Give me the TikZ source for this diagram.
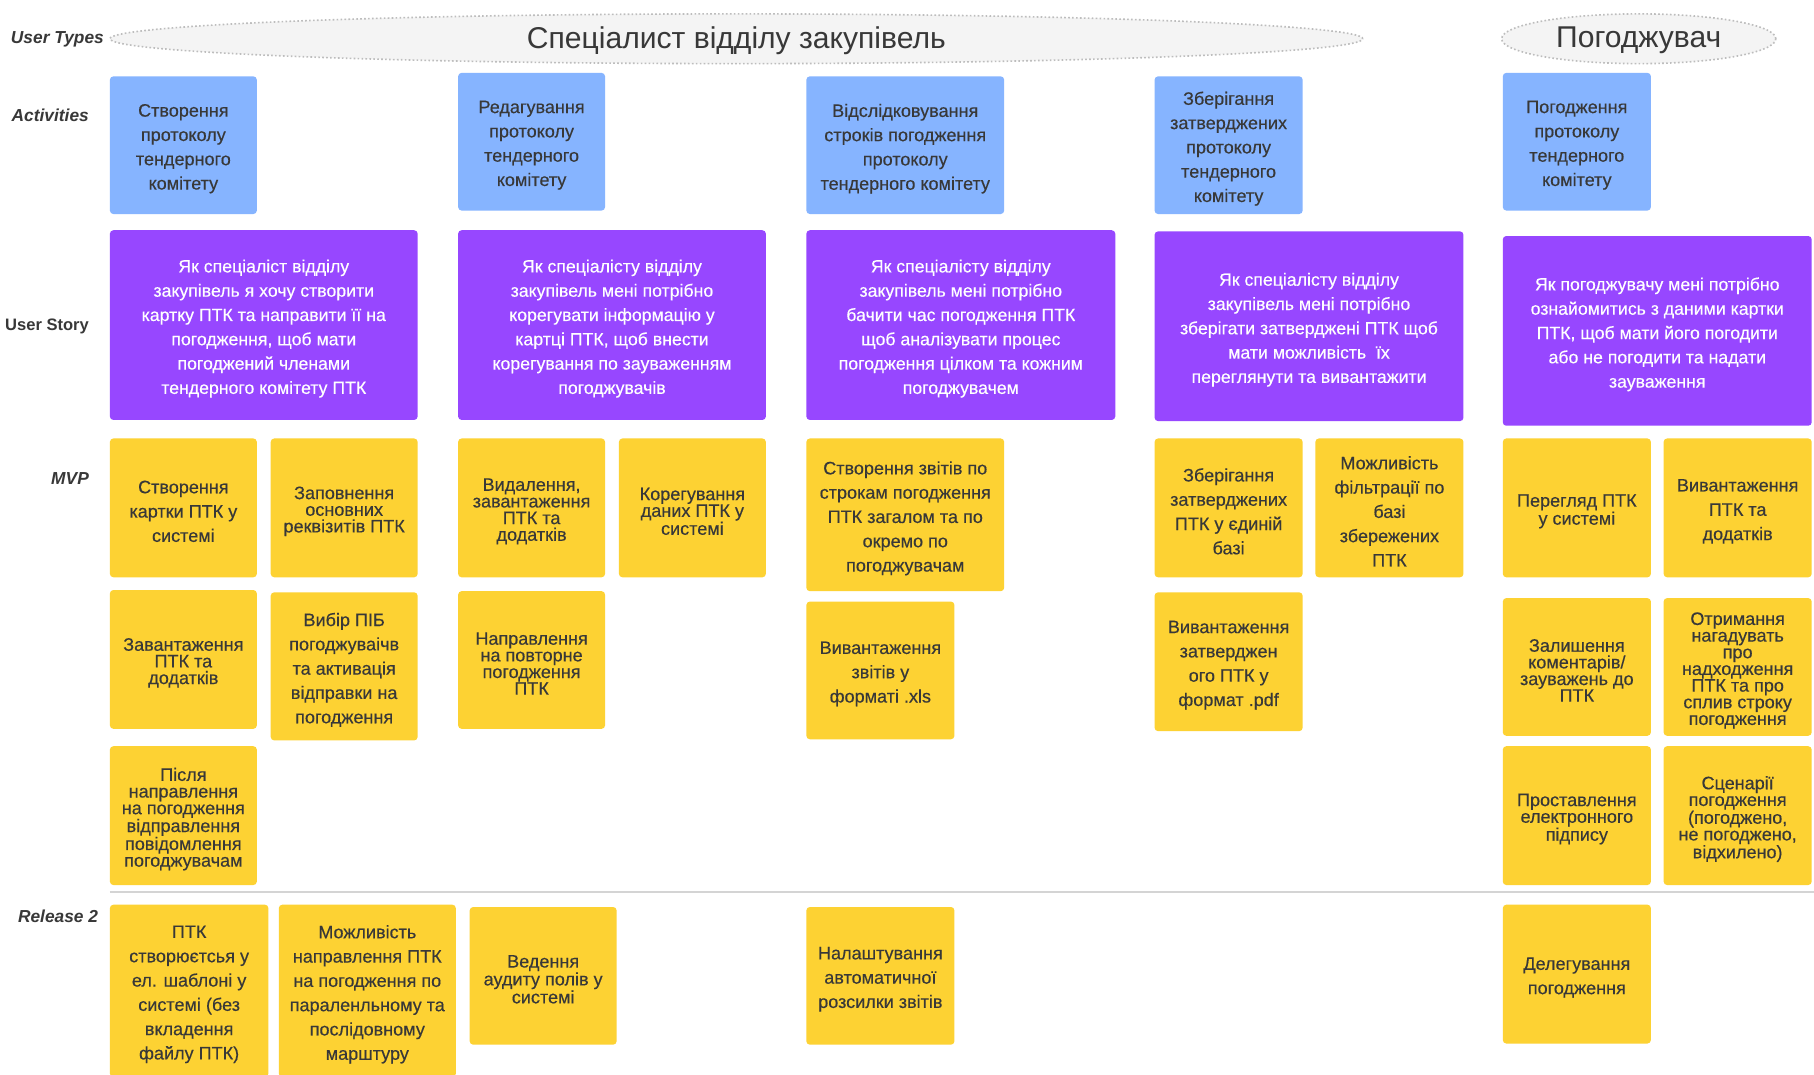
\documentclass[tikz,border=0pt]{standalone}
\usepackage{fontspec}
\setmainfont{Liberation Sans}
\newfontfamily\cardfont{Liberation Sans}[FakeBold=0.35]
\usetikzlibrary{shapes.geometric}
\definecolor{actblue}{HTML}{86B4FF}
\definecolor{storyviolet}{HTML}{9747FF}
\definecolor{stickyyellow}{HTML}{FDD233}
\definecolor{inkgray}{HTML}{383838}
\definecolor{personafill}{HTML}{F4F4F4}
\definecolor{personaline}{HTML}{BDBDBD}
\definecolor{ruleline}{HTML}{D4D4D4}
\tikzset{
  card/.style={anchor=north west, inner sep=0pt, outer sep=0pt, rounded corners=3pt},
  act/.style={card, fill=actblue},
  story/.style={card, fill=storyviolet},
  sticky/.style={card, fill=stickyyellow},
  sz/.style 2 args={minimum width=#1pt, minimum height=#2pt},
  cardtext/.style={inner sep=0pt, align=center, text=inkgray,
    font=\cardfont\fontsize{15.6}{21}\selectfont},
  storytext/.style={cardtext, text=white, font=\cardfont\fontsize{15.3}{21}\selectfont},
  tight/.style={cardtext, font=\cardfont\fontsize{15.6}{14.4}\selectfont},
  rowlabel/.style={anchor=east, inner sep=0pt, text=inkgray, font=\fontsize{15}{17}\selectfont\bfseries\itshape},
  persona/.style={ellipse, draw=personaline, line width=1.4pt, dotted, fill=personafill,
    inner sep=0pt},
  personatext/.style={inner sep=0pt, text=inkgray, font=\fontsize{26}{28}\selectfont},
}
% a coloured card with its text block set a little below the geometric centre
\newcommand\card[8]{%
  \node[#1, sz={#6}{#7}] (#3) at (#4,#5) {};
  \node[#2] (#3t) at ([yshift=-3pt]#3.center) {#8};}
\begin{document}
\begin{tikzpicture}[x=1pt, y=-1pt]
\useasboundingbox (0,0) rectangle (1568,929);
\clip (0,0) rectangle (1568,929);
\fill[white] (0,0) rectangle (1568,929);

% row labels
\node[rowlabel] (lUT) at (90,34) {User Types};
\node[rowlabel] (lAct) at (77,100) {Activities};
\node[rowlabel, font=\fontsize{14.3}{16}\selectfont\bfseries] (lUS) at (77,282) {User Story};
\node[rowlabel] (lMVP) at (77,414) {MVP};
\node[rowlabel] (lR2) at (85,792) {Release 2};

% personas
\node[persona, minimum width=1083pt, minimum height=43pt] (pSpec) at (636.5,33.5) {};
\node[personatext] (pSpecT) at ([yshift=-1.5pt]pSpec.center) {Спеціалист відділу закупівель};
\node[persona, minimum width=237pt, minimum height=43pt] (pAppr) at (1416.5,33.5) {};
\node[personatext] (pApprT) at ([yshift=-1.5pt]pAppr.center) {Погоджувач};

% activities
\card{act}{cardtext}{a1}{95}{66}{127}{119}{Створення\\протоколу\\тендерного\\комітету}
\card{act}{cardtext}{a2}{396}{63}{127}{119}{Редагування\\протоколу\\тендерного\\комітету}
\card{act}{cardtext}{a3}{697}{66}{171}{119}{Відслідковування\\строків погодження\\протоколу\\тендерного комітету}
\card{act}{cardtext}{a4}{998}{66}{128}{119}{Зберігання\\затверджених\\протоколу\\тендерного\\комітету}
\card{act}{cardtext}{a5}{1299}{63}{128}{119}{Погодження\\протоколу\\тендерного\\комітету}

% user stories
\card{story}{storytext}{s1}{95}{199}{266}{164}{Як спеціаліст відділу\\закупівель я хочу створити\\картку ПТК та направити її на\\погодження, щоб мати\\погоджений членами\\тендерного комітету ПТК}
\card{story}{storytext}{s2}{396}{199}{266}{164}{Як спеціалісту відділу\\закупівель мені потрібно\\корегувати інформацію у\\картці ПТК, щоб внести\\корегування по зауваженням\\погоджувачів}
\card{story}{storytext}{s3}{697}{199}{267}{164}{Як спеціалісту відділу\\закупівель мені потрібно\\бачити час погодження ПТК\\щоб аналізувати процес\\погодження цілком та кожним\\погоджувачем}
\card{story}{storytext}{s4}{998}{200}{267}{164}{Як спеціалісту відділу\\закупівель мені потрібно\\зберігати затверджені ПТК щоб\\мати можливість\ \ їх\\переглянути та вивантажити}
\card{story}{storytext}{s5}{1299}{204}{267}{164}{Як погоджувачу мені потрібно\\ознайомитись з даними картки\\ПТК, щоб мати його погодити\\або не погодити та надати\\зауваження}

% MVP, first row
\card{sticky}{cardtext}{m11}{95}{379}{127}{120}{Створення\\картки ПТК у\\системі}
\card{sticky}{tight}{m12}{234}{379}{127}{120}{Заповнення\\основних\\реквізитів ПТК}
\card{sticky}{tight}{m13}{396}{379}{127}{120}{Видалення,\\завантаження\\ПТК та\\додатків}
\card{sticky}{tight}{m14}{535}{379}{127}{120}{Корегування\\даних ПТК у\\системі}
\card{sticky}{cardtext}{m15}{697}{379}{171}{132}{Створення звітів по\\строкам погодження\\ПТК загалом та по\\окремо по\\погоджувачам}
\card{sticky}{cardtext}{m16}{998}{379}{128}{120}{Зберігання\\затверджених\\ПТК у єдиній\\базі}
\card{sticky}{cardtext}{m17}{1137}{379}{128}{120}{Можливість\\фільтрації по\\базі\\збережених\\ПТК}
\card{sticky}{tight}{m18}{1299}{379}{128}{120}{Перегляд ПТК\\у системі}
\card{sticky}{cardtext}{m19}{1438}{379}{128}{120}{Вивантаження\\ПТК та\\додатків}

% MVP, second row
\card{sticky}{tight}{m21}{95}{510}{127}{120}{Завантаження\\ПТК та\\додатків}
\card{sticky}{cardtext}{m22}{234}{512}{127}{128}{Вибір ПІБ\\погоджуваічв\\та активація\\відправки на\\погодження}
\card{sticky}{tight}{m23}{396}{511}{127}{119}{Направлення\\на повторне\\погодження\\ПТК}
\card{sticky}{cardtext}{m24}{697}{520}{128}{119}{Вивантаження\\звітів у\\форматі .xls}
\card{sticky}{cardtext}{m25}{998}{512}{128}{120}{Вивантаження\\затверджен\\ого ПТК у\\формат .pdf}
\card{sticky}{tight}{m26}{1299}{517}{128}{119}{Залишення\\коментарів/\\зауважень до\\ПТК}
\card{sticky}{tight}{m27}{1438}{517}{128}{119}{Отримання\\нагадувать\\про\\надходження\\ПТК та про\\сплив строку\\погодження}

% MVP, third row
\card{sticky}{tight}{m31}{95}{645}{127}{120}{Після\\направлення\\на погодження\\відправлення\\повідомлення\\погоджувачам}
\card{sticky}{tight}{m36}{1299}{645}{128}{120}{Проставлення\\електронного\\підпису}
\card{sticky}{tight}{m37}{1438}{645}{128}{120}{Сценарії\\погодження\\(погоджено,\\не погоджено,\\відхилено)}

% release boundary
\coordinate (sepL) at (95,771);
\coordinate (sepR) at (1568,771);
\draw[ruleline, line width=2.5pt] (sepL) -- (sepR);

% release 2
\card{sticky}{cardtext}{r1}{95}{782}{137}{149}{ПТК\\створюєтсья у\\ел. шаблоні у\\системі (без\\вкладення\\файлу ПТК)}
\card{sticky}{cardtext}{r2}{241}{782}{153}{149}{Можливість\\направлення ПТК\\на погодження по\\параленльному та\\послідовному\\марштуру}
\card{sticky}{tight}{r3}{406}{784}{127}{119}{Ведення\\аудиту полів у\\системі}
\card{sticky}{cardtext}{r4}{697}{784}{128}{119}{Налаштування\\автоматичної\\розсилки звітів}
\card{sticky}{cardtext}{r5}{1299}{782}{128}{120}{Делегування\\погодження}
\end{tikzpicture}
\end{document}
